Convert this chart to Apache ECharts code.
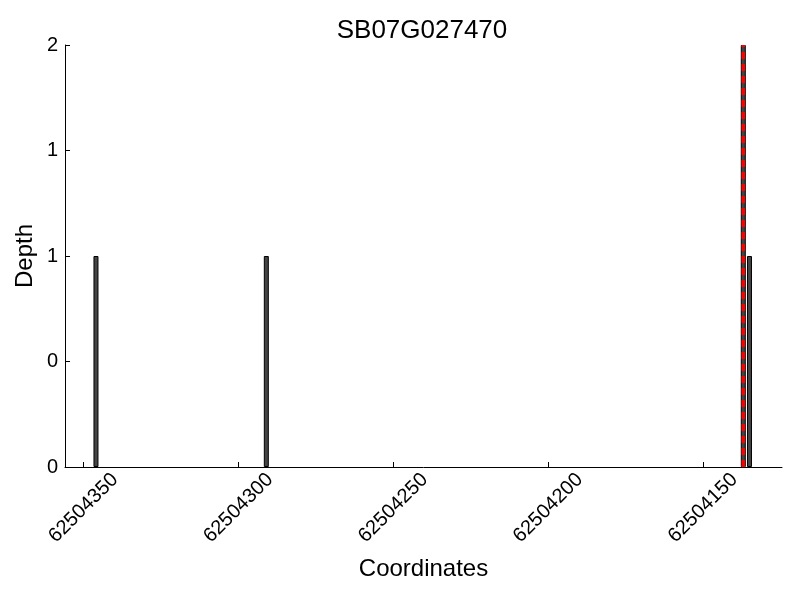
<!DOCTYPE html>
<html>
<head>
<meta charset="utf-8">
<script src="https://cdn.jsdelivr.net/npm/echarts@6/dist/echarts.min.js"></script>
<style>
  html, body { margin: 0; padding: 0; background: #fff; }
  #main { width: 800px; height: 600px; }
</style>
</head>
<body>
<div id="main"></div>
<script>
// depth per coordinate
const positions = [62504346, 62504291, 62504137, 62504135]
const depths = [1, 1, 2, 1]

// highlighted site (red dashed)
const markPos = [62504137]

// axis ticks
const xTickValues = [62504350, 62504300, 62504250, 62504200, 62504150]
const yTickValues = [0, 0.5, 1, 1.5, 2]
const yTickLabels = ['0', '0', '1', '1', '2']

const xMin = 62504124.5
const xMax = 62504356
const yMax = 2

const font = 'Liberation Sans'

const chart = echarts.init(document.getElementById('main'))

const barData = positions.map((p, i) => [p, depths[i]])
const markData = []
markPos.forEach(p => {
  markData.push([p, 0], [p, yMax], null)
})

const option = {
  backgroundColor: '#fff',
  animation: false,
  title: {
    text: 'SB07G027470',
    left: 417,
    top: 13,
    textAlign: 'center',
    textStyle: { fontFamily: font, fontSize: 26, fontWeight: 'normal', color: '#000' }
  },
  grid: { left: 65, right: 18, top: 45, bottom: 133 },
  xAxis: {
    type: 'value',
    inverse: true,
    min: xMin,
    max: xMax,
    name: 'Coordinates',
    nameLocation: 'middle',
    nameGap: 90,
    nameMoveOverlap: false,
    nameTextStyle: { fontFamily: font, fontSize: 24, color: '#000' },
    axisLine: { show: true, lineStyle: { color: '#000', width: 1 } },
    axisTick: { show: true, inside: true, length: 5, customValues: xTickValues, lineStyle: { color: '#000' } },
    splitLine: { show: false },
    axisLabel: {
      customValues: xTickValues,
      rotate: 45,
      align: 'center',
      verticalAlign: 'middle',
      margin: 41,
      fontFamily: font,
      fontSize: 20,
      color: '#000',
      formatter: v => String(v)
    }
  },
  yAxis: {
    type: 'value',
    min: 0,
    max: yMax,
    interval: 0.5,
    name: 'Depth',
    nameLocation: 'middle',
    nameGap: 28,
    nameMoveOverlap: false,
    nameTextStyle: { fontFamily: font, fontSize: 24, color: '#000' },
    axisLine: { show: true, lineStyle: { color: '#000', width: 1 } },
    axisTick: { show: true, inside: true, length: 5, lineStyle: { color: '#000' } },
    splitLine: { show: false },
    axisLabel: {
      margin: 7,
      fontFamily: font,
      fontSize: 20,
      color: '#000',
      formatter: v => {
        const i = yTickValues.indexOf(v)
        return i >= 0 ? yTickLabels[i] : ''
      }
    }
  },
  series: [
    {
      type: 'bar',
      data: barData,
      barWidth: 5,
      itemStyle: { color: '#444', borderColor: '#000', borderWidth: 1 }
    },
    {
      type: 'line',
      data: markData,
      symbol: 'none',
      connectNulls: false,
      z: 5,
      lineStyle: { color: '#ff0000', width: 3.5, type: [7, 5] }
    }
  ]
}
chart.setOption(option)
</script>
</body>
</html>
